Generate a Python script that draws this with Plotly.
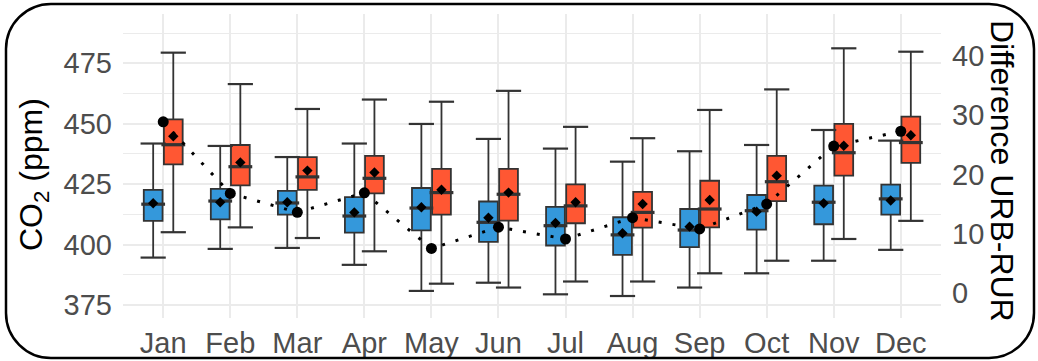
import plotly.graph_objects as go

months = ["Jan", "Feb", "Mar", "Apr", "May", "Jun", "Jul", "Aug", "Sep", "Oct", "Nov", "Dec"]

rur_upper = [441.8, 440.8, 436.2, 441.8, 449.9, 443.7, 439.7, 434.3, 438.6, 441.2, 447.4, 443.0]
rur_q3 = [422.6, 423.0, 422.2, 419.6, 423.4, 417.8, 415.6, 411.3, 414.7, 420.5, 424.4, 424.8]
rur_med = [416.7, 418.0, 417.2, 411.8, 415.1, 409.2, 407.8, 404.0, 406.0, 414.0, 417.5, 418.9]
rur_q1 = [409.8, 410.4, 412.4, 404.9, 405.9, 401.1, 399.6, 395.7, 398.9, 406.2, 408.4, 412.4]
rur_lower = [394.6, 398.2, 398.6, 391.6, 380.8, 384.2, 379.4, 378.7, 382.2, 388.1, 393.3, 397.8]
rur_mean = [417.1, 417.5, 417.5, 413.3, 415.4, 411.1, 408.9, 404.7, 407.4, 413.6, 417.1, 418.2]

urb_upper = [479.4, 466.4, 456.1, 460.0, 459.1, 463.6, 448.7, 444.0, 455.7, 464.2, 481.2, 479.8]
urb_q3 = [451.8, 441.2, 436.2, 436.7, 431.3, 431.3, 424.9, 421.8, 426.4, 436.7, 449.9, 452.9]
urb_med = [441.3, 432.2, 428.0, 427.4, 421.5, 420.8, 416.0, 413.3, 414.7, 426.0, 438.0, 442.2]
urb_q1 = [433.2, 424.5, 422.6, 421.2, 412.4, 409.9, 408.8, 407.0, 407.1, 418.0, 428.5, 433.8]
urb_lower = [405.1, 407.1, 402.7, 397.2, 383.8, 382.2, 384.7, 384.7, 388.1, 393.3, 402.3, 409.8]
urb_mean = [444.8, 434.0, 430.6, 429.8, 422.7, 421.5, 417.5, 416.8, 418.4, 428.5, 440.9, 445.2]

diff_urb_rur = [28.9, 16.8, 13.6, 16.9, 7.5, 11.1, 9.1, 12.7, 10.8, 15.0, 24.8, 27.3]

y_ticks = [375, 400, 425, 450, 475]
y2_ticks = [0, 10, 20, 30, 40]

# ---- styling / layout constants ----
W, H = 1038, 361
ML, MR, MT, MB = 123, 97, 14, 43
Y_RANGE = [369.6, 495.4]
SEC_OFFSET, SEC_SCALE = 380.0, 2.45
Y2_RANGE = [(v - SEC_OFFSET) / SEC_SCALE for v in Y_RANGE]
OFF = 0.15
BOXW = 0.28
BLUE = "#3498DB"
RED = "#FF5733"
EDGE = "#333333"
GRID = "#EBEBEB"
TICKC = "#4D4D4D"
FONT = "Liberation Sans, Arial, sans-serif"
TICKSIZE = 29

pos = list(range(1, len(months) + 1))

fig = go.Figure()


def add_group(shift, color, lower, q1, med, q3, upper, mean, name):
    xs = [p + shift for p in pos]
    fig.add_trace(go.Box(
        x=xs, q1=q1, median=med, q3=q3, lowerfence=lower, upperfence=upper,
        width=BOXW, fillcolor=color, line=dict(color=EDGE, width=1.8),
        whiskerwidth=0, name=name, showlegend=False, hoverinfo="skip",
    ))
    # whisker caps
    fig.add_trace(go.Scatter(
        x=xs + xs, y=list(lower) + list(upper), mode="markers",
        marker=dict(symbol="line-ew", size=18, line=dict(color=EDGE, width=2.2)),
        showlegend=False, hoverinfo="skip",
    ))
    # thick median
    fig.add_trace(go.Scatter(
        x=xs, y=med, mode="markers",
        marker=dict(symbol="line-ew", size=17, line=dict(color=EDGE, width=3.2)),
        showlegend=False, hoverinfo="skip",
    ))
    # mean
    fig.add_trace(go.Scatter(
        x=xs, y=mean, mode="markers",
        marker=dict(symbol="diamond", size=8, color="black"),
        showlegend=False, hoverinfo="skip",
    ))


add_group(-OFF, BLUE, rur_lower, rur_q1, rur_med, rur_q3, rur_upper, rur_mean, "RUR")
add_group(OFF, RED, urb_lower, urb_q1, urb_med, urb_q3, urb_upper, urb_mean, "URB")

fig.add_trace(go.Scatter(
    x=pos, y=diff_urb_rur, yaxis="y2", mode="lines",
    line=dict(color="black", width=3, dash="3px,11px"),
    showlegend=False, hoverinfo="skip",
))
fig.add_trace(go.Scatter(
    x=pos, y=diff_urb_rur, yaxis="y2", mode="markers",
    marker=dict(symbol="circle", size=11, color="black"),
    showlegend=False, hoverinfo="skip",
))

# rounded border (in pixels -> paper fractions)
pw, ph = W - ML - MR, H - MT - MB


def fx(px):
    return (px - ML) / pw


def fy(py):
    return (H - MB - py) / ph


L, R, T, B, r = 6, 1034, 4, 358, 45
k = 0.5523 * r


def P(x, y):
    return f"{fx(x):.5f},{fy(y):.5f}"


path = (
    f"M {P(L + r, T)} L {P(R - r, T)} "
    f"C {P(R - r + k, T)} {P(R, T + r - k)} {P(R, T + r)} "
    f"L {P(R, B - r)} "
    f"C {P(R, B - r + k)} {P(R - r + k, B)} {P(R - r, B)} "
    f"L {P(L + r, B)} "
    f"C {P(L + r - k, B)} {P(L, B - r + k)} {P(L, B - r)} "
    f"L {P(L, T + r)} "
    f"C {P(L, T + r - k)} {P(L + r - k, T)} {P(L + r, T)} Z"
)

fig.update_layout(
    width=W, height=H,
    margin=dict(l=ML, r=MR, t=MT, b=MB, autoexpand=False),
    paper_bgcolor="white", plot_bgcolor="white",
    font=dict(family=FONT, size=TICKSIZE, color=TICKC),
    boxmode="overlay",
    xaxis=dict(
        range=[0.4, 12.6], tickmode="array", tickvals=pos, ticktext=months,
        showgrid=True, gridcolor=GRID, gridwidth=1.6, zeroline=False,
        showline=False, ticks="", ticklabelstandoff=5,
        tickfont=dict(size=TICKSIZE, color=TICKC),
    ),
    yaxis=dict(
        range=Y_RANGE, tickmode="array", tickvals=y_ticks,
        showgrid=True, gridcolor=GRID, gridwidth=1.6, zeroline=False,
        showline=False, ticks="", ticklabelstandoff=10,
        tickfont=dict(size=TICKSIZE, color=TICKC),
        minor=dict(tick0=375, dtick=12.5, showgrid=True, gridcolor=GRID, gridwidth=1.2),
    ),
    yaxis2=dict(
        range=Y2_RANGE, overlaying="y", side="right", tickmode="array",
        tickvals=y2_ticks, showgrid=False, zeroline=False, showline=False,
        ticks="", ticklabelstandoff=10, tickfont=dict(size=TICKSIZE, color=TICKC),
    ),
    shapes=[dict(type="path", xref="paper", yref="paper", path=path,
                 line=dict(color="black", width=2.5), layer="above")],
    annotations=[
        dict(text="CO<sub>2</sub> (ppm)", xref="paper", yref="paper",
             x=fx(33), y=fy(175), textangle=-90, showarrow=False,
             font=dict(size=32, color="black", family=FONT),
             xanchor="center", yanchor="middle"),
        dict(text="Difference URB-RUR", xref="paper", yref="paper",
             x=fx(1002), y=fy(171), textangle=90, showarrow=False,
             font=dict(size=32, color="black", family=FONT),
             xanchor="center", yanchor="middle"),
    ],
)

fig.write_html("out.html")
